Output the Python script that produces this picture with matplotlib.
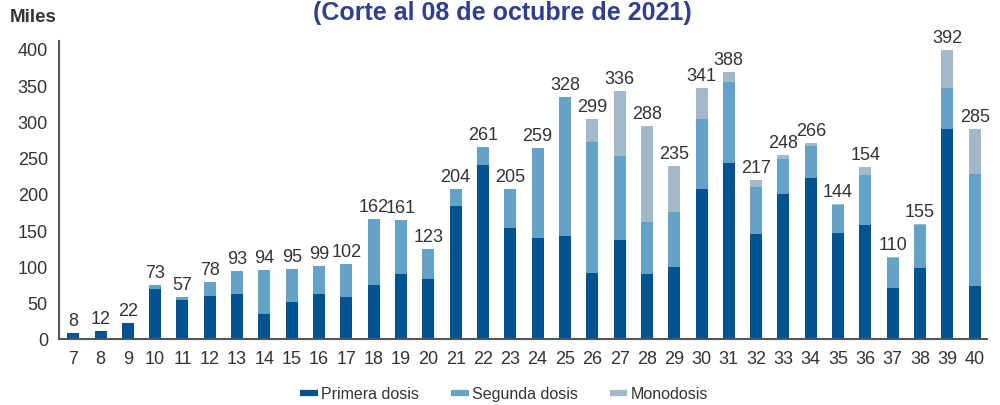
import matplotlib
matplotlib.use("Agg")
import matplotlib.pyplot as plt
from matplotlib.lines import Line2D
import numpy as np

weeks = [str(w) for w in range(7, 41)]
primera = [8, 11, 22, 69, 54, 59, 62, 34, 51, 62, 58, 75, 90, 83, 184, 240, 153, 139, 142, 91,
           136, 90, 99, 207, 243, 145, 200, 222, 146, 157, 70, 98, 290, 73]
segunda = [0, 0, 0, 5, 4, 20, 32, 61, 46, 39, 45, 90, 74, 41, 23, 25, 54, 124, 192, 181,
           117, 72, 76, 96, 111, 65, 48, 44, 39, 69, 42, 59, 56, 155]
monodosis = [0, 0, 0, 0, 0, 0, 0, 0, 0, 0, 0, 0, 0, 0, 0, 0, 0, 0, 0, 31,
             89, 132, 64, 43, 14, 9, 6, 4, 1, 11, 1, 1.5, 52, 62]
totales = [8, 12, 22, 73, 57, 78, 93, 94, 95, 99, 102, 162, 161, 123, 204, 261, 205, 259, 328, 299,
           336, 288, 235, 341, 388, 217, 248, 266, 144, 154, 110, 155, 392, 285]
yticks = [0, 50, 100, 150, 200, 250, 300, 350, 400]

c1, c2, c3 = "#00538F", "#65A2C8", "#A3B8C8"
fam = ["Liberation Sans", "DejaVu Sans"]
plt.rcParams["font.family"] = fam

fig = plt.figure(figsize=(10, 4.06), dpi=100)
ax = fig.add_axes([0.059, 66 / 406, 0.928, 298 / 406])

x = np.arange(len(weeks))
p = np.array(primera, float)
s = np.array(segunda, float)
m = np.array(monodosis, float)
w = 0.44
ax.bar(x, p, w, color=c1)
ax.bar(x, s, w, bottom=p, color=c2)
ax.bar(x, m, w, bottom=p + s, color=c3)

tops = p + s + m
for xi, t, lab in zip(x, tops, totales):
    ax.annotate(str(lab), (xi, t), xytext=(0, 3), textcoords="offset points",
                ha="center", va="bottom", fontsize=13, color="#333333")

ax.set_xlim(-0.52, len(weeks) - 0.55)
ax.set_ylim(0, 411)
ax.set_yticks(yticks)
ax.set_xticks(x)
ax.set_xticklabels(weeks)
ax.tick_params(axis="both", length=0, labelsize=13, labelcolor="#333333")
ax.tick_params(axis="y", pad=8)
ax.tick_params(axis="x", pad=8)
for sp in ["top", "right"]:
    ax.spines[sp].set_visible(False)
for sp in ["left", "bottom"]:
    ax.spines[sp].set_color("#555555")
    ax.spines[sp].set_linewidth(1.5)

fig.text(0.01, 1 - 18 / 406, "Miles", fontsize=13.5, fontweight="bold", color="#333333",
         ha="left", va="center")
fig.text(0.502, 1 - 1 / 406, "(Corte al 08 de octubre de 2021)", fontsize=18, fontweight="bold",
         color="#2F3E8F", ha="center", va="top")

handles = [Line2D([0], [0], color=c, lw=4.5, solid_capstyle="butt") for c in (c1, c2, c3)]
fig.legend(handles, ["Primera dosis", "Segunda dosis", "Monodosis"], loc="center",
           bbox_to_anchor=(0.504, 1 - 395 / 406), ncol=3, frameon=False, fontsize=11.5,
           handlelength=1.1, handletextpad=0.2, columnspacing=2.0, labelcolor="#333333")

fig.savefig("out.png", dpi=100)
